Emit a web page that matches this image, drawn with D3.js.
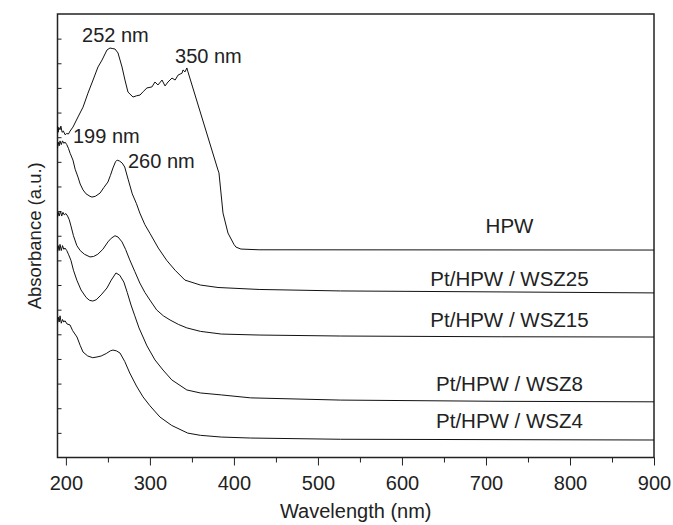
<!DOCTYPE html>
<html>
<head>
<meta charset="utf-8">
<script src="https://cdn.jsdelivr.net/npm/d3@7"></script>
<style>
  body { margin: 0; background: #fff; }
  svg text { font-family: "Liberation Sans", Arial, sans-serif; fill: #222; }
</style>
</head>
<body>
<div id="chart"></div>
<script>
// spectra: [wavelength nm, absorbance a.u. (offset)]
const hpw = [[190,13.45],[190.8,13.2],[191.5,13.4],[193,13.3],[194,13.45],[195.5,13.2],[197,13.25],[199,13.1],[201,13.15],[203,13.13],[205,13.25],[208.4,13.41],[214.4,13.82],[220.4,14.22],[226.3,14.79],[232.3,15.32],[238.2,15.85],[243,16.13],[248.9,16.54],[252.5,16.62],[255,16.6],[258.4,16.58],[262,16.42],[266.8,15.85],[270.3,15.32],[273.9,14.83],[279.9,14.63],[284,14.68],[288.2,14.71],[292,14.85],[296.5,15.0],[302.4,15.04],[306,15.24],[309.6,15.12],[314.4,15.32],[318,15.08],[321.5,15.24],[326.3,15.4],[330,15.32],[333.5,15.52],[338.3,15.6],[339.4,15.73],[341.8,15.65],[344,15.81],[345.3,15.65],[381,11.67],[382.2,11.55],[387,9.92],[392.9,9.11],[400,8.65],[402.4,8.54],[408.3,8.46],[430,8.43],[900,8.42]];

const wsz25 = [[190,12.55],[190.8,12.8],[192,12.65],[193,12.85],[194.5,12.7],[196,12.85],[197.5,12.75],[199,12.8],[201,12.7],[203,12.55],[205,12.35],[208.4,12.07],[211,11.7],[214.4,11.38],[217,11.1],[220.4,10.86],[224,10.7],[228.7,10.6],[231,10.57],[235,10.6],[240.6,10.73],[245,10.95],[250,11.18],[253,11.45],[256,11.75],[259,12.0],[261,12.07],[264,12.03],[267,11.95],[270,11.79],[274,11.3],[279,10.7],[284,10.3],[288,9.92],[294,9.45],[300,9.1],[310,8.5],[320,8.0],[330,7.6],[341.7,7.2],[360,7.0],[381,6.9],[430,6.82],[527,6.76],[718,6.72],[900,6.68]];

const wsz15 = [[190,9.75],[190.8,9.95],[192,9.8],[193.5,10.0],[195,9.8],[196.5,9.95],[198,9.85],[200,9.9],[202,9.8],[204,9.65],[206,9.4],[209,9.0],[213,8.6],[217,8.4],[222,8.25],[228.7,8.14],[233,8.16],[238,8.25],[244,8.45],[250,8.75],[254,8.9],[258.4,9.0],[262,8.95],[266.8,8.75],[271,8.45],[276,8.02],[282,7.55],[288,7.08],[294,6.7],[300,6.39],[308,5.99],[316,5.75],[324,5.58],[334,5.4],[344,5.26],[360,5.12],[385,5.01],[430,4.97],[527,4.93],[718,4.9],[900,4.89]];

const wsz8 = [[190,8.35],[190.8,8.6],[192,8.4],[193,8.65],[194.5,8.4],[196,8.6],[197.5,8.45],[199,8.5],[201,8.4],[203,8.25],[206,8.0],[209,7.6],[213,7.2],[218,6.8],[224,6.5],[228,6.38],[232,6.35],[236,6.4],[242,6.6],[248.9,6.88],[254,7.2],[259.6,7.49],[264,7.4],[269,7.12],[273,6.7],[277.5,6.19],[282,5.75],[287,5.26],[296.5,4.53],[306,3.96],[315.6,3.55],[326,3.15],[344,2.74],[360,2.62],[385,2.54],[420,2.42],[527,2.33],[718,2.28],[900,2.26]];

const wsz4 = [[190,5.45],[190.8,5.7],[192,5.5],[193,5.75],[194.5,5.45],[196,5.6],[197.5,5.5],[199,5.55],[201.3,5.42],[204.9,5.38],[208,5.15],[213.2,4.89],[217,4.55],[220.4,4.28],[226,4.12],[232,4.05],[237,4.08],[242,4.12],[248,4.22],[253,4.33],[256,4.36],[260,4.33],[264.4,4.24],[270,3.9],[276,3.43],[284,2.9],[291.8,2.46],[300,2.1],[312,1.64],[326,1.3],[345,0.99],[360,0.9],[385,0.83],[420,0.79],[527,0.74],[900,0.71]];

const seriesNames = ["HPW", "Pt/HPW / WSZ25", "Pt/HPW / WSZ15", "Pt/HPW / WSZ8", "Pt/HPW / WSZ4"];
const seriesData = [hpw, wsz25, wsz15, wsz8, wsz4];
// label anchor (centre wavelength, baseline absorbance) for each series name
const seriesLabelWl = [728, 728, 728, 728, 728];
const seriesLabelAbs = [9.11, 6.96, 5.30, 2.70, 1.20];

// peak annotations
const peakText = ["252 nm", "350 nm", "199 nm", "260 nm"];
const peakWl = [219.2, 329.9, 208.4, 273.9];
const peakAbs = [16.86, 16.01, 12.76, 11.75];

const xMajorTicks = [200, 300, 400, 500, 600, 700, 800, 900];
const xMinorTicks = [250, 350, 450, 550, 650, 750, 850];
const yTicks = d3.range(1, 18);

const margin = { top: 14, right: 19, bottom: 67.5, left: 57.5 };
const totalW = 673, totalH = 525;
const width = totalW - margin.left - margin.right;
const height = totalH - margin.top - margin.bottom;

const svg = d3.select("#chart").append("svg")
    .attr("width", totalW)
    .attr("height", totalH)
    .append("g")
    .attr("transform", `translate(${margin.left},${margin.top})`);

const x = d3.scaleLinear().domain([190, 900]).range([0, width]);
const y = d3.scaleLinear().domain([0, 18]).range([height, 0]);

// minor x ticks
svg.append("g")
    .attr("transform", `translate(0,${height})`)
    .call(d3.axisBottom(x).tickValues(xMinorTicks).tickSize(5).tickFormat(""))
    .call(g => g.select(".domain").remove());

// major x ticks with labels
svg.append("g")
    .attr("class", "x-axis")
    .attr("transform", `translate(0,${height})`)
    .call(d3.axisBottom(x).tickValues(xMajorTicks).tickSize(8).tickPadding(10.5).tickFormat(d3.format("d")))
    .call(g => g.select(".domain").remove())
    .call(g => g.selectAll("text").style("font-size", "20px").attr("fill", "#222"));

// inward y ticks, no labels
svg.append("g")
    .call(d3.axisLeft(y).tickValues(yTicks).tickSize(-4).tickFormat(""))
    .call(g => g.select(".domain").remove());

svg.selectAll(".tick line").attr("stroke", "#222").attr("stroke-width", 1);

// frame
svg.append("rect")
    .attr("x", 0).attr("y", 0)
    .attr("width", width).attr("height", height)
    .attr("fill", "none")
    .attr("stroke", "#222")
    .attr("stroke-width", 1.5);

const line = d3.line()
    .x(d => x(d[0]))
    .y(d => y(d[1]));

svg.selectAll(".spectrum")
    .data(seriesData)
    .enter()
    .append("path")
    .attr("class", "spectrum")
    .attr("d", line)
    .attr("fill", "none")
    .attr("stroke", "#111")
    .attr("stroke-width", 1);

svg.selectAll(".series-label")
    .data(seriesNames)
    .enter()
    .append("text")
    .attr("class", "series-label")
    .attr("x", (d, i) => x(seriesLabelWl[i]))
    .attr("y", (d, i) => y(seriesLabelAbs[i]))
    .attr("text-anchor", "middle")
    .style("font-size", "20.5px")
    .text(d => d);

svg.selectAll(".peak-label")
    .data(peakText)
    .enter()
    .append("text")
    .attr("class", "peak-label")
    .attr("x", (d, i) => x(peakWl[i]))
    .attr("y", (d, i) => y(peakAbs[i]))
    .style("font-size", "20px")
    .text(d => d);

// axis titles
svg.append("text")
    .attr("x", width / 2)
    .attr("y", height + 60)
    .attr("text-anchor", "middle")
    .style("font-size", "20px")
    .text("Wavelength (nm)");

svg.append("text")
    .attr("transform", "rotate(-90)")
    .attr("x", -height / 2)
    .attr("y", -16.5)
    .attr("text-anchor", "middle")
    .style("font-size", "18.5px")
    .text("Absorbance (a.u.)");
</script>
</body>
</html>
